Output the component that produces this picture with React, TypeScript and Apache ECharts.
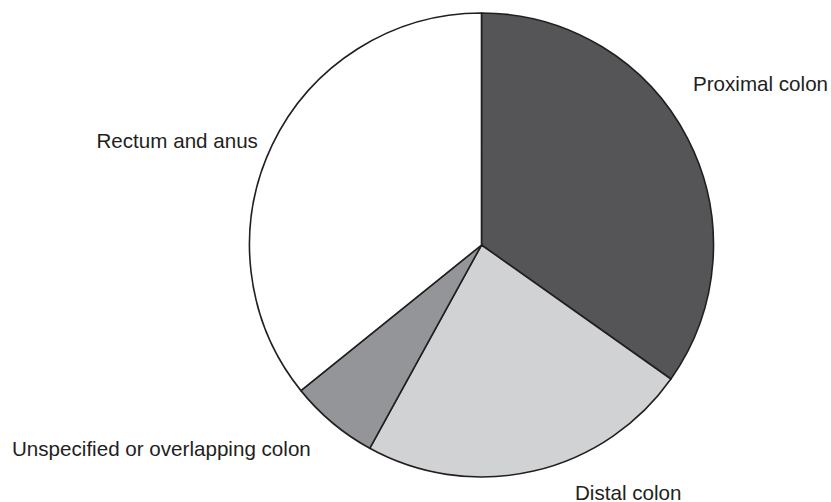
import React, { useEffect, useRef } from "react";
import * as echarts from "echarts";

const categories = [
  "Proximal colon",
  "Distal colon",
  "Unspecified or overlapping colon",
  "Rectum and anus",
];
const shares = [34.8, 23.2, 6.2, 35.8];
const sliceColors = ["#555558", "#d1d2d4", "#939598", "#ffffff"];

// label anchor positions (left x, vertical middle y)
const labelSpots: [number, number][] = [
  [693, 83],
  [575, 492],
  [12, 448.5],
  [96.5, 140],
];

export default function App() {
  const ref = useRef<HTMLDivElement>(null);
  useEffect(() => {
    if (!ref.current) return;
    const chart = echarts.init(ref.current, undefined, { renderer: "svg" });
    chart.setOption({
      animation: false,
      backgroundColor: "#ffffff",
      series: [
        {
          type: "pie",
          center: [481.5, 245],
          radius: 232,
          startAngle: 90,
          clockwise: true,
          avoidLabelOverlap: false,
          data: categories.map((name, i) => ({
            name,
            value: shares[i],
            itemStyle: { color: sliceColors[i] },
          })),
          itemStyle: { borderColor: "#231f20", borderWidth: 1.6 },
          emphasis: { disabled: true },
          label: {
            show: true,
            position: "outside",
            alignTo: "none",
            overflow: "none",
            formatter: "{b}",
            color: "#231f20",
            fontSize: 20.6,
            fontFamily: "Liberation Sans, Arial, sans-serif",
          },
          labelLine: { show: false },
          labelLayout: (params: any) => {
            const p = labelSpots[params.dataIndex];
            return { x: p[0], y: p[1], align: "left", verticalAlign: "middle" };
          },
        },
      ],
    });
    return () => chart.dispose();
  }, []);
  return (
    <div
      ref={ref}
      style={{ position: "absolute", left: 0, top: 0, width: 831, height: 502 }}
    />
  );
}
